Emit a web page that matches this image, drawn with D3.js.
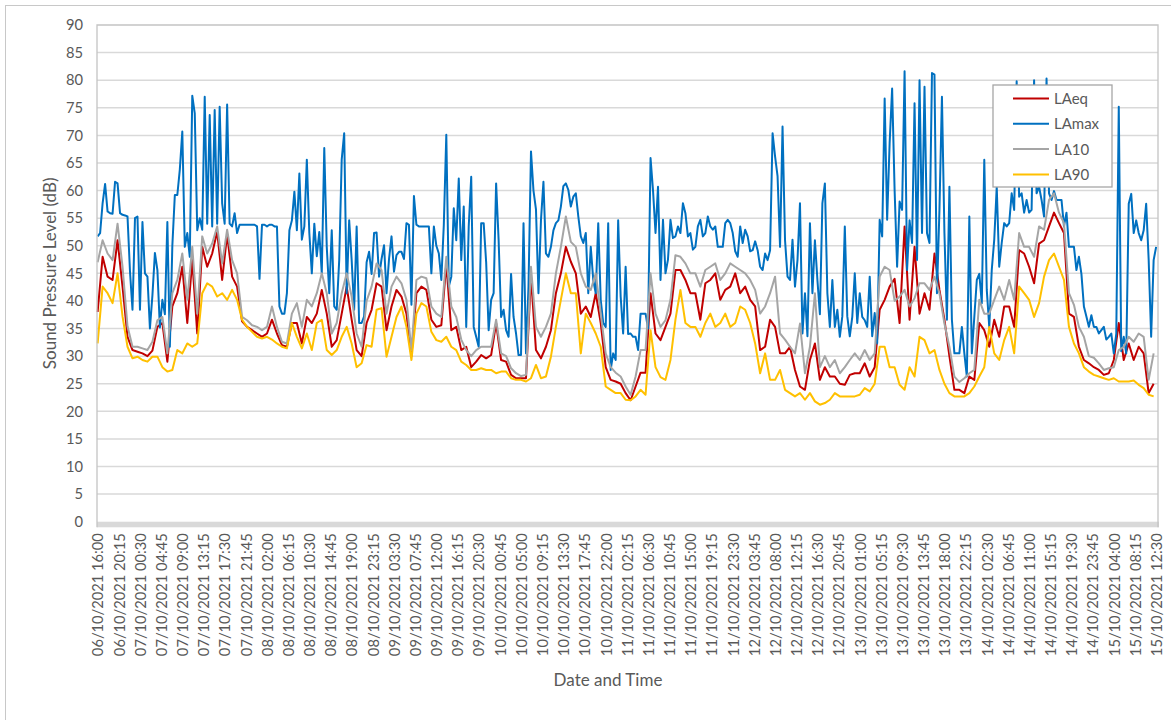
<!DOCTYPE html>
<html>
<head>
<meta charset="utf-8">
<script src="https://cdn.jsdelivr.net/npm/d3@7"></script>
<style>
  body { margin: 0; background: #fff; }
  svg { display: block; }
  text { font-family: Lato, "Open Sans", sans-serif; fill: #595959; }
</style>
</head>
<body>
<div id="chart"></div>
<script>
// Noise survey 06/10/2021 16:00 -> 15/10/2021 12:45, 15 min categories (852 of them)
const nCats = 852;

const tickLabels = [
  "06/10/2021 16:00","06/10/2021 20:15","07/10/2021 00:30","07/10/2021 04:45","07/10/2021 09:00",
  "07/10/2021 13:15","07/10/2021 17:30","07/10/2021 21:45","08/10/2021 02:00","08/10/2021 06:15",
  "08/10/2021 10:30","08/10/2021 14:45","08/10/2021 19:00","08/10/2021 23:15","09/10/2021 03:30",
  "09/10/2021 07:45","09/10/2021 12:00","09/10/2021 16:15","09/10/2021 20:30","10/10/2021 00:45",
  "10/10/2021 05:00","10/10/2021 09:15","10/10/2021 13:30","10/10/2021 17:45","10/10/2021 22:00",
  "11/10/2021 02:15","11/10/2021 06:30","11/10/2021 10:45","11/10/2021 15:00","11/10/2021 19:15",
  "11/10/2021 23:30","12/10/2021 03:45","12/10/2021 08:00","12/10/2021 12:15","12/10/2021 16:30",
  "12/10/2021 20:45","13/10/2021 01:00","13/10/2021 05:15","13/10/2021 09:30","13/10/2021 13:45",
  "13/10/2021 18:00","13/10/2021 22:15","14/10/2021 02:30","14/10/2021 06:45","14/10/2021 11:00",
  "14/10/2021 15:15","14/10/2021 19:30","14/10/2021 23:45","15/10/2021 04:00","15/10/2021 08:15",
  "15/10/2021 12:30"
];
const tickEvery = 17; // one label every 17 categories (4h15)

// hourly readings from 06/10 16:00 (one value every 4 categories)
const laeq = [
  38,48,44.4,43.8,51,42.6,33.5,31.1,30.8,30.5,30,31,35.3,36,29,39,41.4,46.2,36,47.4,
  34.1,49.8,46.2,48.6,52.6,43.8,52,44.4,42.6,36.3,35.3,34.7,34.1,33.5,34.1,36.6,34.1,32,31.7,36,
  36,32.3,37.1,36,37.7,42,37.7,31.7,32.9,37.7,42.6,36.6,31.1,30,36,38.4,43.2,42.6,34.7,39,
  42,40.8,37.7,30,41.4,42.6,42,36.6,35.3,35.6,46.8,34.7,35.3,31.1,31.7,28,29,30.2,29.6,30.2,
  36,29.3,29,26.6,26,26,26,44.4,31.1,29.6,31.7,34.7,41.4,45,49.8,47.1,45,37.7,39,37.1,
  41.4,36,28,25.7,25.4,25,23.3,22,24.5,27,27,41.4,34.1,32.9,35.3,37.7,45.6,45.6,43.8,41.4,
  41.4,36.6,43.2,43.8,45,40.2,42,42.6,45,41.4,42.6,40.2,39,31.1,31.7,36.6,35.3,30.5,30.5,31.7,
  27.5,24.5,23.9,29.3,32.3,25.7,28,26.3,26.3,25,24.8,26.6,26.9,26.9,28.7,26.3,28,38.4,40.2,42.6,
  44,36,53.5,36.6,49.8,37.7,41.4,38.4,48.6,42,36.6,30,23.9,23.9,23.3,26.3,25.7,36,34.7,31.7,
  36.6,33.5,39,39,35.3,49.2,48.6,46.2,43.2,50.4,51,53.5,56,54.1,52.3,37.7,37.1,31.7,29.3,28.7,
  28,27.5,26.6,26.9,29.3,36,29.3,32.3,29.3,31.7,30.5,23.3,25
];
const la10 = [
  47,51,48.6,47.4,54,46.2,35.4,31.7,31.7,31.4,31.1,32.6,36.5,37.1,30.5,41.4,43.8,48.6,40.2,49.8,
  37.7,51.7,48.6,50.4,53.5,46.8,52.9,47.4,45,37.1,36.5,35.6,35.3,34.7,35.3,39,35.3,32.6,32.3,37.7,
  39.6,35.3,40.2,39,41.4,45,41.4,34.1,36,41.4,45,40.8,34.1,31.7,40,42.6,46.8,45.6,37.7,42.6,
  44.4,43.2,40.2,31,43.8,44.4,44.1,39,37.7,37.1,48,39,37.1,33,31.1,30,31.1,31.7,31.7,31.7,
  36.6,30.5,30,27.8,26.9,26.4,26.6,46.2,35.3,33.5,35.3,37.7,45,49.8,55.3,50.7,49.8,45,42.6,42,
  45,37.7,30.5,28,27,26.3,24.5,23,26.3,31.1,31.1,45,37.7,35.3,36.5,40.2,48.3,48,46.8,45,
  45,42.6,45.6,46.2,46.8,43.8,45,46.8,46.2,45.6,45,43.8,42,37.7,39,41.4,44.4,34.1,33,31.7,
  30.5,35.9,26.9,31.7,41.4,28,30,28,29.3,26.9,28,29.3,30.5,29.3,31.1,29.3,30.5,44.4,46.2,45.6,
  40,40.8,42,39,40.5,43.2,43.2,42,44.4,41.4,35.9,31.7,26.3,25.3,26,26.9,27.5,40.2,37.7,37.7,
  40.2,42.6,40.2,43.8,40.2,52.3,49.8,49.8,48,53.5,52.9,58.3,59.5,56,54.1,41.4,39.3,35.3,33.5,30,
  29.7,28.7,27.5,27.8,28,31.1,31.7,33.5,32.6,34.1,33.5,25.7,30.5
];
const la90 = [
  32.3,42.6,41.4,39.6,45,37.2,31.7,29.6,29.9,29.3,29,29.9,29.9,28,27.2,27.5,31.1,30.5,32.3,31.7,
  32.3,41.4,43.2,42.6,40.8,41.4,40.2,42,40.2,36.6,35.3,34.4,33.5,33.2,33.5,33,32.3,31.7,31.4,36,
  33.5,31.4,34.1,31.1,36,36.6,31.1,30.2,31.1,33.5,35.3,32.3,28,28.7,32,31.7,38.4,38.7,29.9,33.5,
  37.1,39,35.3,29.3,37.7,39.6,39,34.4,32.9,32.6,33.5,31.7,31.1,29,28.4,27.5,27.5,27.8,27.5,27.5,
  26.9,27.2,27.2,26,25.7,25.7,25.4,26,28.4,26,26.3,29.9,35.3,40.2,45,41.4,41.4,30.5,37.7,36,
  34.1,31.7,24.5,23.9,23.3,23.3,22.1,22,22.7,23.9,23,34.7,28,26.2,25.7,29.3,36.6,42,36,35.3,
  35.3,33.5,36,37.7,35.3,36,37.7,35.3,36,39,38.4,36,32.3,26.9,30.5,25.7,25.7,27.5,23.9,23.3,
  22.7,23.3,22.1,23.3,21.8,21.2,21.5,22.1,23.3,22.7,22.7,22.7,22.7,23,24.2,23.6,25,31.7,31.7,28,
  28,24.8,23.9,28,26.3,33.5,32.9,30.5,31.1,27.5,25,23.3,22.7,22.7,22.7,23.3,24.5,26.3,28,35.3,
  30.5,29.3,32.9,35.3,30.5,42.6,41.4,40.2,37.1,39.6,44.4,47.4,48.6,46.2,43.8,35.3,32.3,30.5,28,27.2,
  26.6,26.3,26,25.7,26,25.4,25.4,25.4,25.6,24.8,24.2,23,22.7
];
// half-hourly maxima (one value every 2 categories)
const lamax = [
  51.7,52.3,57.7,61.2,56.2,55.9,55.8,61.6,61.3,55.9,55.6,55.5,55.3,45.3,38.4,55,55.3,38.4,54.3,45,
  44.4,35,41,48.7,45.6,35.2,40.2,37.6,54.3,31.7,50,59.2,59.2,63.8,70.7,49.8,52.3,48,77.2,74,
  52.8,55,52.9,77,54,73.7,53.5,74.6,54,75.2,57.7,54,75.6,54,53.5,55.9,52.3,53.8,53.8,53.8,
  53.8,53.8,53.8,53.8,53.5,44,53.8,53.8,53.5,53.8,53.8,53.5,53.5,39,37.7,37.7,41.4,52.8,54.6,59.8,
  52.8,63.1,51.1,53.5,65.6,52.3,45,54,48.1,52.5,45,67.7,49.8,41.4,52.8,39,38.4,47.4,65.6,70.4,
  41.4,54.6,47.4,38.4,53.5,36,36,37.2,47,48.9,44.9,52.3,52.4,44.4,47.6,50.1,41.4,47.6,51.7,45.3,
  48.3,48.9,48.9,47.6,54.1,53.8,39.3,59,53.8,53.5,53.5,53.5,53.5,53.5,45,53.5,50,48.6,43.8,53.8,
  70.1,42.6,44.4,56.8,51,62.2,47.4,57.1,35.3,53.5,62.5,35.3,33.5,31.7,54.1,54.1,47,34.7,40.2,41.4,
  61.3,51.1,37.1,38.4,34.7,33.5,44.9,37.1,34.1,30.2,30.2,54.1,30.5,42.6,67.1,60,56.6,41.4,54.6,61.6,
  48.6,48,49.8,52.8,54.1,54.6,57.1,60.8,61.3,60.1,57.1,58.9,59.5,55.3,51.7,50.5,52.3,41.4,49.8,43.8,
  41.4,54.1,40.2,36,35.3,54.1,27.5,30.5,29.3,54.6,40.8,34.1,46.2,34,34.1,33.5,33.5,31.1,37.7,37.7,
  37.7,35,65.9,60,52.3,60.7,43.8,54.7,45,47.5,54.7,51.4,51.7,53.5,52.3,57.7,55.9,51.7,52.3,49.3,
  49.8,53.5,54.7,51.7,52.3,55.3,53.5,52.9,53.5,49.8,49.8,49.8,54.1,54.7,54.1,52.3,49,48,53.5,50.5,
  52.9,51.7,49,49.2,50.8,49.2,46.2,45.6,48.6,47.4,49.2,70.4,66.2,62.6,49.8,71.6,51,44.4,43.8,51.1,
  42.6,47.4,57.7,34.1,41.4,33.6,54.1,41.4,51,43.8,37.6,57.7,61.3,41.4,35.3,43.8,35.3,38.4,33.5,37.2,
  53.5,37.2,33.6,37.1,45,36,41.4,37.1,36.5,35.3,44.4,33.6,37.8,32.3,54.7,51.7,76.7,54.7,68.6,78.5,
  60,46.2,58,56.5,81.6,45.6,54.6,50.5,75.8,47.4,80,52.3,78.8,52.3,50.5,81.3,81,41.4,56.5,77,
  52.3,36.6,60.7,36.6,30.5,30.5,30.5,35.3,30.5,26.3,55.3,30.5,37.1,43.8,44.9,39.6,65.6,42,35.3,45.6,
  51.1,60.7,46.2,50.5,54.1,53.5,54.1,59.5,56.5,79.8,58.9,59.5,56,58.3,56,56.5,80,59.5,60.7,58.3,
  55.3,80.3,59.5,58.3,59.9,58.3,58.3,58.3,53.5,56,49.8,49.8,49.8,45.6,48,44.9,39,37.2,35.3,37.4,
  35.3,35.3,34.1,34.7,35.3,33,33.5,34.1,30.5,34.1,75.2,30.9,33.5,30.5,57.6,59.4,52.3,54.6,52.3,51,
  52.8,57.6,47.5,33.5,47.4,49.8
];

const seriesNames = ["LAeq", "LAmax", "LA10", "LA90"];
const seriesColors = ["#C00000", "#0070C0", "#A5A5A5", "#FFC000"];
const seriesData = [laeq, lamax, la10, la90];
const seriesStep = [4, 2, 4, 4]; // categories between readings

const W = 1171, H = 720;
const M = { left: 97, right: 1158, top: 25, bottom: 521.7 };

const svg = d3.select("#chart").append("svg").attr("width", W).attr("height", H);

// chart area border (runs off the right/bottom of the picture)
svg.append("rect").attr("x", 5.5).attr("y", 5.5).attr("width", 1300).attr("height", 900)
  .attr("fill", "#fff").attr("stroke", "#c8c8c8").attr("stroke-width", 1);

const x = d3.scaleLinear().domain([-0.5, nCats - 0.5]).range([M.left, M.right]);
const y = d3.scaleLinear().domain([0, 90]).range([M.bottom, M.top]);

// gridlines
svg.append("g").selectAll("line").data(d3.range(5, 90, 5)).enter().append("line")
  .attr("x1", M.left).attr("x2", M.right)
  .attr("y1", d => y(d)).attr("y2", d => y(d))
  .attr("stroke", "#d9d9d9").attr("stroke-width", 1.5);

// y axis
const gy = svg.append("g").attr("transform", `translate(${M.left},0)`)
  .call(d3.axisLeft(y).tickValues(d3.range(0, 95, 5)).tickSize(0).tickPadding(14));
gy.select(".domain").remove();
gy.selectAll("text").attr("font-family", "Lato, 'Open Sans', sans-serif").attr("font-size", "14.7px").attr("fill", "#595959");

// x axis, rotated labels
const gx = svg.append("g").attr("transform", `translate(0,${M.bottom})`)
  .call(d3.axisBottom(x)
    .tickValues(d3.range(tickLabels.length).map(k => k * tickEvery))
    .tickFormat((d, i) => tickLabels[i]).tickSize(0));
gx.select(".domain").remove();
gx.selectAll("text")
  .attr("transform", "rotate(-90)").attr("text-anchor", "end")
  .attr("x", -11.5).attr("y", 0).attr("dy", "0.36em")
  .attr("font-family", "Lato, 'Open Sans', sans-serif").attr("font-size", "14.7px").attr("fill", "#595959");

// series
const line = d3.line().x(d => x(d[0])).y(d => y(d[1]));
seriesData.forEach((vals, s) => {
  const pts = vals.map((v, i) => [i * seriesStep[s], v]);
  svg.append("path").datum(pts)
    .attr("fill", "none").attr("stroke", seriesColors[s]).attr("stroke-width", 2)
    .attr("stroke-linejoin", "round").attr("d", line);
});

// plot area frame and thick category axis
svg.append("rect").attr("x", M.left).attr("y", M.bottom).attr("width", M.right - M.left + 1).attr("height", 5.6)
  .attr("fill", "#d9d9d9");
svg.append("path")
  .attr("d", `M${M.left},${M.bottom + 5.6}V${M.top}H${M.right}V${M.bottom + 5.6}`)
  .attr("fill", "none").attr("stroke", "#c4c4c4").attr("stroke-width", 1.3);

// axis titles
svg.append("text").attr("transform", `translate(50,${(M.top + M.bottom) / 2}) rotate(-90)`)
  .attr("text-anchor", "middle").attr("dy", "0.35em").attr("font-size", "17px")
  .text("Sound Pressure Level (dB)");
svg.append("text").attr("x", 608).attr("y", 680).attr("text-anchor", "middle")
  .attr("dy", "0.35em").attr("font-size", "17px").text("Date and Time");

// legend
const lg = svg.append("g").attr("transform", "translate(993,85)");
lg.append("rect").attr("width", 119).attr("height", 102)
  .attr("fill", "#fff").attr("stroke", "#a6a6a6").attr("stroke-width", 1.3);
seriesNames.forEach((name, i) => {
  const yy = 13.5 + i * 25.3;
  lg.append("line").attr("x1", 20).attr("x2", 56).attr("y1", yy).attr("y2", yy)
    .attr("stroke", seriesColors[i]).attr("stroke-width", 2);
  lg.append("text").attr("x", 61).attr("y", yy).attr("dy", "0.36em")
    .attr("font-size", "15px").text(name);
});
</script>
</body>
</html>
